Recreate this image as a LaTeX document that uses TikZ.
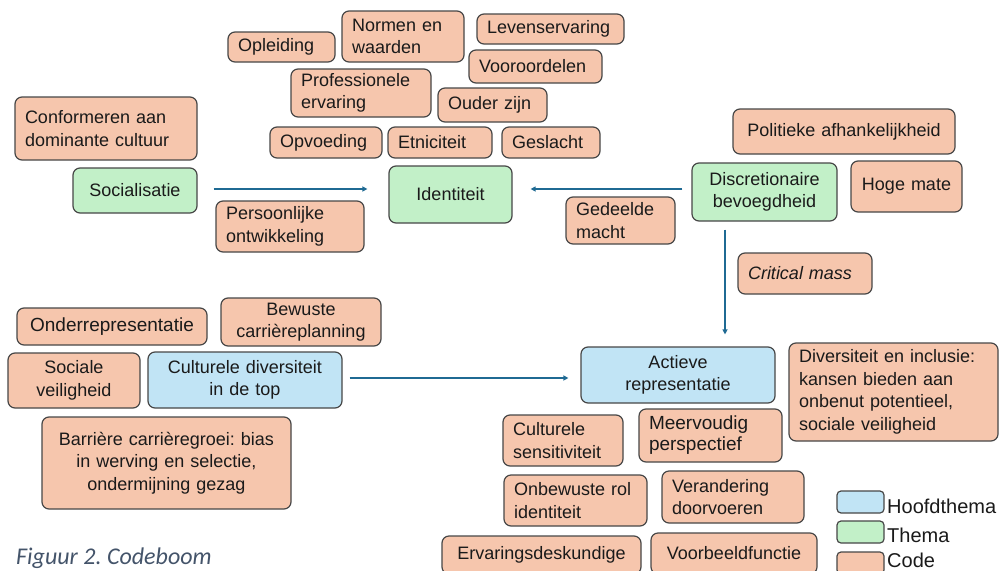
\documentclass[tikz,border=0pt]{standalone}
\usepackage{fontspec}
\setmainfont{Liberation Sans}
\newfontfamily\capfont{Carlito}
\usetikzlibrary{arrows.meta}
\frenchspacing
\definecolor{codefill}{HTML}{F6C6AD}
\definecolor{themafill}{HTML}{C2F0C8}
\definecolor{hoofdfill}{HTML}{C1E4F5}
\definecolor{bordc}{HTML}{474747}
\definecolor{arrc}{HTML}{1F6A93}
\definecolor{capc}{HTML}{44546A}
\definecolor{txtc}{HTML}{1A1A1A}
\tikzset{
  boxbase/.style={draw=bordc, line width=1.2pt, rounded corners=7pt, inner xsep=10pt, inner ysep=2pt,
    font=\fontsize{18}{22.5}\selectfont\frenchspacing, text=txtc, align=left},
  code/.style={fill=codefill},
  thema/.style={fill=themafill},
  hoofd/.style={fill=hoofdfill},
  ctr/.style={align=center},
  arr/.style={draw=arrc, line width=1.3pt, -{Triangle[length=5pt,width=5pt]}},
  legbox/.style={draw=bordc, line width=1.2pt, rounded corners=4pt, minimum width=47pt, minimum height=22pt, inner sep=0pt},
  legtext/.style={anchor=base west, inner sep=0pt, font=\fontsize{20}{24}\selectfont, text=txtc}
}
\newcommand\bx[7][]{%
  \pgfmathsetmacro\bw{#5-#3}%
  \pgfmathsetmacro\bh{#6-#4}%
  \pgfmathsetmacro\tw{#5-#3-20}%
  \node[boxbase,#1,minimum width=\bw pt,minimum height=\bh pt,text width=\tw pt] (#2) at ({(#3+#5)/2},{(#4+#6)/2}) {#7};}
\begin{document}
\begin{tikzpicture}[x=1pt,y=-1pt]
\useasboundingbox (0,0) rectangle (1003,570);
% top cluster
\bx[code]{opl}{228}{32}{335}{62}{Opleiding}
\bx[code]{norm}{342}{11}{464}{62}{Normen en\\waarden}
\bx[code]{lev}{477}{14}{624}{44}{Levenservaring}
\bx[code]{prof}{291}{69}{431}{117}{Professionele\\ervaring}
\bx[code]{voor}{469}{50}{602}{83}{Vooroordelen}
\bx[code]{oud}{438}{88}{547}{122}{Ouder zijn}
\bx[code]{opv}{270}{127}{382}{158}{Opvoeding}
\bx[code]{etn}{388}{127}{492}{158}{Etniciteit}
\bx[code]{ges}{502}{127}{600}{158}{Geslacht}
\bx[thema,ctr]{ident}{389}{166}{512}{223}{Identiteit}
% left
\bx[code]{conf}{15}{97}{197}{160}{Conformeren aan\\dominante cultuur}
\bx[thema,ctr]{soc}{73}{168}{197}{213}{Socialisatie}
\bx[code]{pers}{216}{201}{364}{252}{Persoonlijke\\ontwikkeling}
% right
\bx[code,ctr]{pol}{733}{109}{955}{154}{Politieke afhankelijkheid}
\bx[thema,ctr]{disc}{692}{163}{837}{221}{Discretionaire\\bevoegdheid}
\bx[code,ctr]{hoge}{851}{161}{962}{212}{Hoge mate}
\bx[code]{ged}{566}{197}{675}{244}{Gedeelde\\macht}
\bx[code]{crit}{738}{253}{872}{294}{\itshape Critical mass}
% lower left
\bx[code,ctr,font=\fontsize{19}{22.5}\selectfont]{onder}{17}{308}{207}{345}{Onderrepresentatie}
\bx[code,ctr]{bew}{221}{298}{381}{346}{Bewuste\\carrièreplanning}
\bx[code,ctr]{sveil}{8}{353}{140}{408}{Sociale\\veiligheid}
\bx[hoofd,ctr]{cult}{148}{352}{342}{408}{Culturele diversiteit\\in de top}
\bx[code,ctr]{barr}{42}{417}{291}{509}{Barrière carrièregroei: bias\\in werving en selectie,\\ondermijning gezag}
% lower right
\bx[hoofd,ctr]{act}{581}{347}{775}{403}{Actieve\\representatie}
\bx[code]{div}{789}{343}{998}{441}{Diversiteit en inclusie:\\kansen bieden aan\\onbenut potentieel,\\sociale veiligheid}
\bx[code]{cs}{503}{415}{623}{466}{Culturele\\sensitiviteit}
\bx[code,font=\fontsize{19}{21}\selectfont]{mp}{639}{409}{782}{462}{Meervoudig\\perspectief}
\bx[code]{obr}{504}{475}{647}{526}{Onbewuste rol\\identiteit}
\bx[code]{vd}{662}{471}{804}{523}{Verandering\\doorvoeren}
\bx[code,ctr]{erv}{442}{536}{641}{574}{Ervaringsdeskundige}
\bx[code,ctr]{vbf}{651}{533}{817}{574}{Voorbeeldfunctie}
% arrows
\draw[arr, shorten <=16pt, shorten >=21pt] ([yshift=1.5pt]soc.east) -- ([yshift=1.5pt]soc.east -| ident.west);
\draw[arr, shorten <=9pt, shorten >=18pt] ([yshift=3pt]disc.west) -- ([yshift=3pt]disc.west -| ident.east);
\draw[arr, shorten <=7pt, shorten >=12pt] ([yshift=2pt]cult.east) -- ([yshift=2pt]cult.east -| act.west);
\coordinate (vx) at (725,0);
\draw[arr, shorten <=8pt, shorten >=12pt] (vx |- disc.south) -- (vx |- act.north);
% legend
\node[legbox, fill=hoofdfill] (lh) at (860.5,502) {};
\node[legbox, fill=themafill] (lt) at (860.5,532) {};
\node[legbox, fill=codefill] (lc) at (860.5,563) {};
\node[legtext] (lht) at (887,513) {Hoofdthema};
\node[legtext] (ltt) at (887,542) {Thema};
\node[legtext] (lct) at (887,567) {Code};
% caption
\node[anchor=base west, inner sep=0pt, font=\capfont\itshape\fontsize{24}{29}\selectfont, text=capc] (cap) at (16,564) {Figuur 2. Codeboom};
\end{tikzpicture}
\end{document}
